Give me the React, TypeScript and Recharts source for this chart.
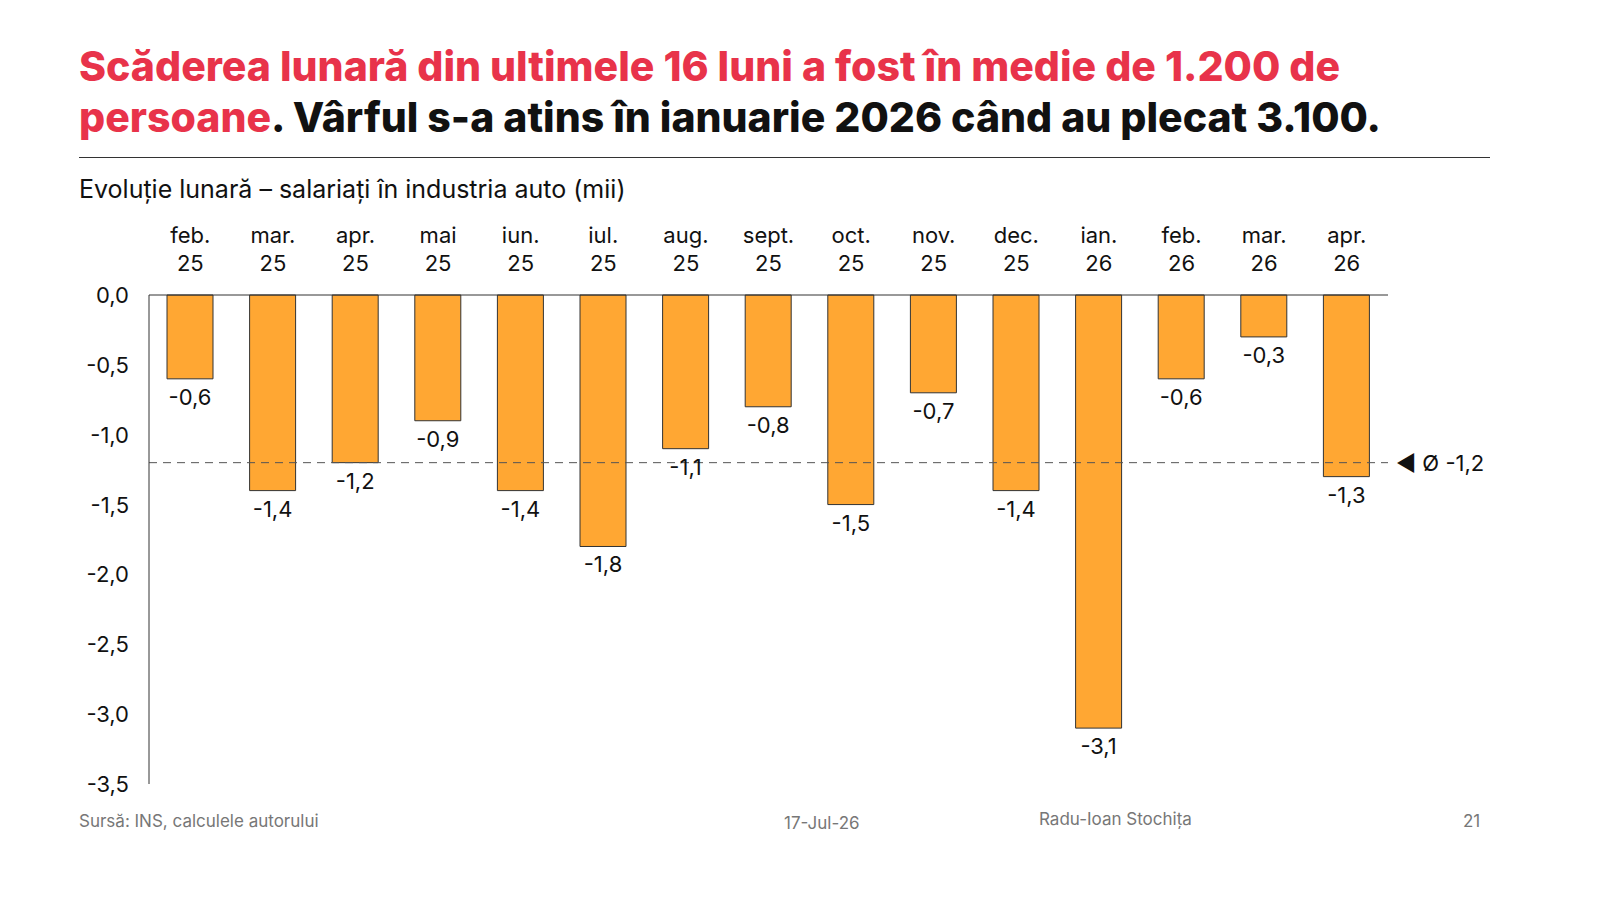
import React from "react";
import { BarChart, Bar, XAxis, YAxis, ReferenceLine, LabelList } from "recharts";

const months = ["feb.", "mar.", "apr.", "mai", "iun.", "iul.", "aug.", "sept.", "oct.", "nov.", "dec.", "ian.", "feb.", "mar.", "apr."];
const years = ["25", "25", "25", "25", "25", "25", "25", "25", "25", "25", "25", "26", "26", "26", "26"];
const values = [-0.6, -1.4, -1.2, -0.9, -1.4, -1.8, -1.1, -0.8, -1.5, -0.7, -1.4, -3.1, -0.6, -0.3, -1.3];
const yTicks = [0, -0.5, -1, -1.5, -2, -2.5, -3, -3.5];
const average = -1.2;

const data = values.map((v, i) => ({ key: i, m: months[i], yr: years[i], v }));
const fmt = (n: number) => n.toFixed(1).replace(".", ",");
const font = "Inter, 'Noto Sans', sans-serif";

const XTick = (p: any) => {
  const d = data[p.payload.value];
  return (
    <text x={p.x} y={p.y} textAnchor="middle" fontFamily={font} fontSize={22} fill="#111">
      <tspan x={p.x} dy={-44}>{d.m}</tspan>
      <tspan x={p.x} dy={28}>{d.yr}</tspan>
    </text>
  );
};

const YTick = (p: any) => (
  <text x={p.x - 12} y={p.y + 8} textAnchor="end" fontFamily={font} fontSize={22} fill="#111">
    {fmt(p.payload.value)}
  </text>
);

const BarLabel = (p: any) => {
  const bottom = Math.max(p.y, p.y + p.height);
  return (
    <text x={p.x + p.width / 2} y={bottom + 26} textAnchor="middle" fontFamily={font} fontSize={22} fill="#111">
      {fmt(p.value)}
    </text>
  );
};

export default function App() {
  return (
    <div style={{ position: "absolute", left: 0, top: 0, width: 1600, height: 900, background: "#fff", fontFamily: font }}>
      <div style={{ position: "absolute", left: 79, top: 41, fontSize: 41, fontWeight: 800, lineHeight: "51px", color: "#111", width: 1360 }}>
        <span style={{ color: "#E8334A" }}>Scăderea lunară din ultimele 16 luni a fost în medie de 1.200 de persoane</span>. Vârful s-a atins în ianuarie 2026 când au plecat 3.100.
      </div>
      <div style={{ position: "absolute", left: 79, top: 157, width: 1411, height: 1, background: "#333" }} />
      <div style={{ position: "absolute", left: 79, top: 174, fontSize: 25, color: "#111" }}>Evoluție lunară – salariați în industria auto (mii)</div>
      <div style={{ position: "absolute", left: 0, top: 0 }}>
        <BarChart width={1600} height={900} data={data} margin={{ top: 225, bottom: 116, left: 89, right: 212 }} barSize={46}>
          <XAxis dataKey="key" orientation="top" height={70} tick={<XTick />} tickLine={false} axisLine={{ stroke: "#333" }} interval={0} />
          <YAxis width={60} domain={[-3.5, 0]} ticks={yTicks} axisLine={{ stroke: "#333" }} tickLine={false}
            tick={<YTick />} interval={0} />
          <ReferenceLine y={average} stroke="#555" strokeDasharray="8 6" ifOverflow="extendDomain"
            label={(p: any) => (
              <text x={p.viewBox.x + p.viewBox.width + 8} y={p.viewBox.y + 8} fontFamily={font} fontSize={22} fill="#111">
                ◀ Ø {fmt(average)}
              </text>
            )} />
          <Bar dataKey="v" fill="#FFA733" stroke="#333" strokeWidth={1} isAnimationActive={false}>
            <LabelList dataKey="v" content={<BarLabel />} />
          </Bar>
        </BarChart>
      </div>
      <div style={{ position: "absolute", left: 79, top: 811, fontSize: 17, color: "#777" }}>Sursă: INS, calculele autorului</div>
      <div style={{ position: "absolute", left: 784, top: 813, fontSize: 17, color: "#777" }}>17-Jul-26</div>
      <div style={{ position: "absolute", left: 1039, top: 809, fontSize: 17, color: "#777" }}>Radu-Ioan Stochița</div>
      <div style={{ position: "absolute", left: 1463, top: 811, fontSize: 17, color: "#777" }}>21</div>
    </div>
  );
}
